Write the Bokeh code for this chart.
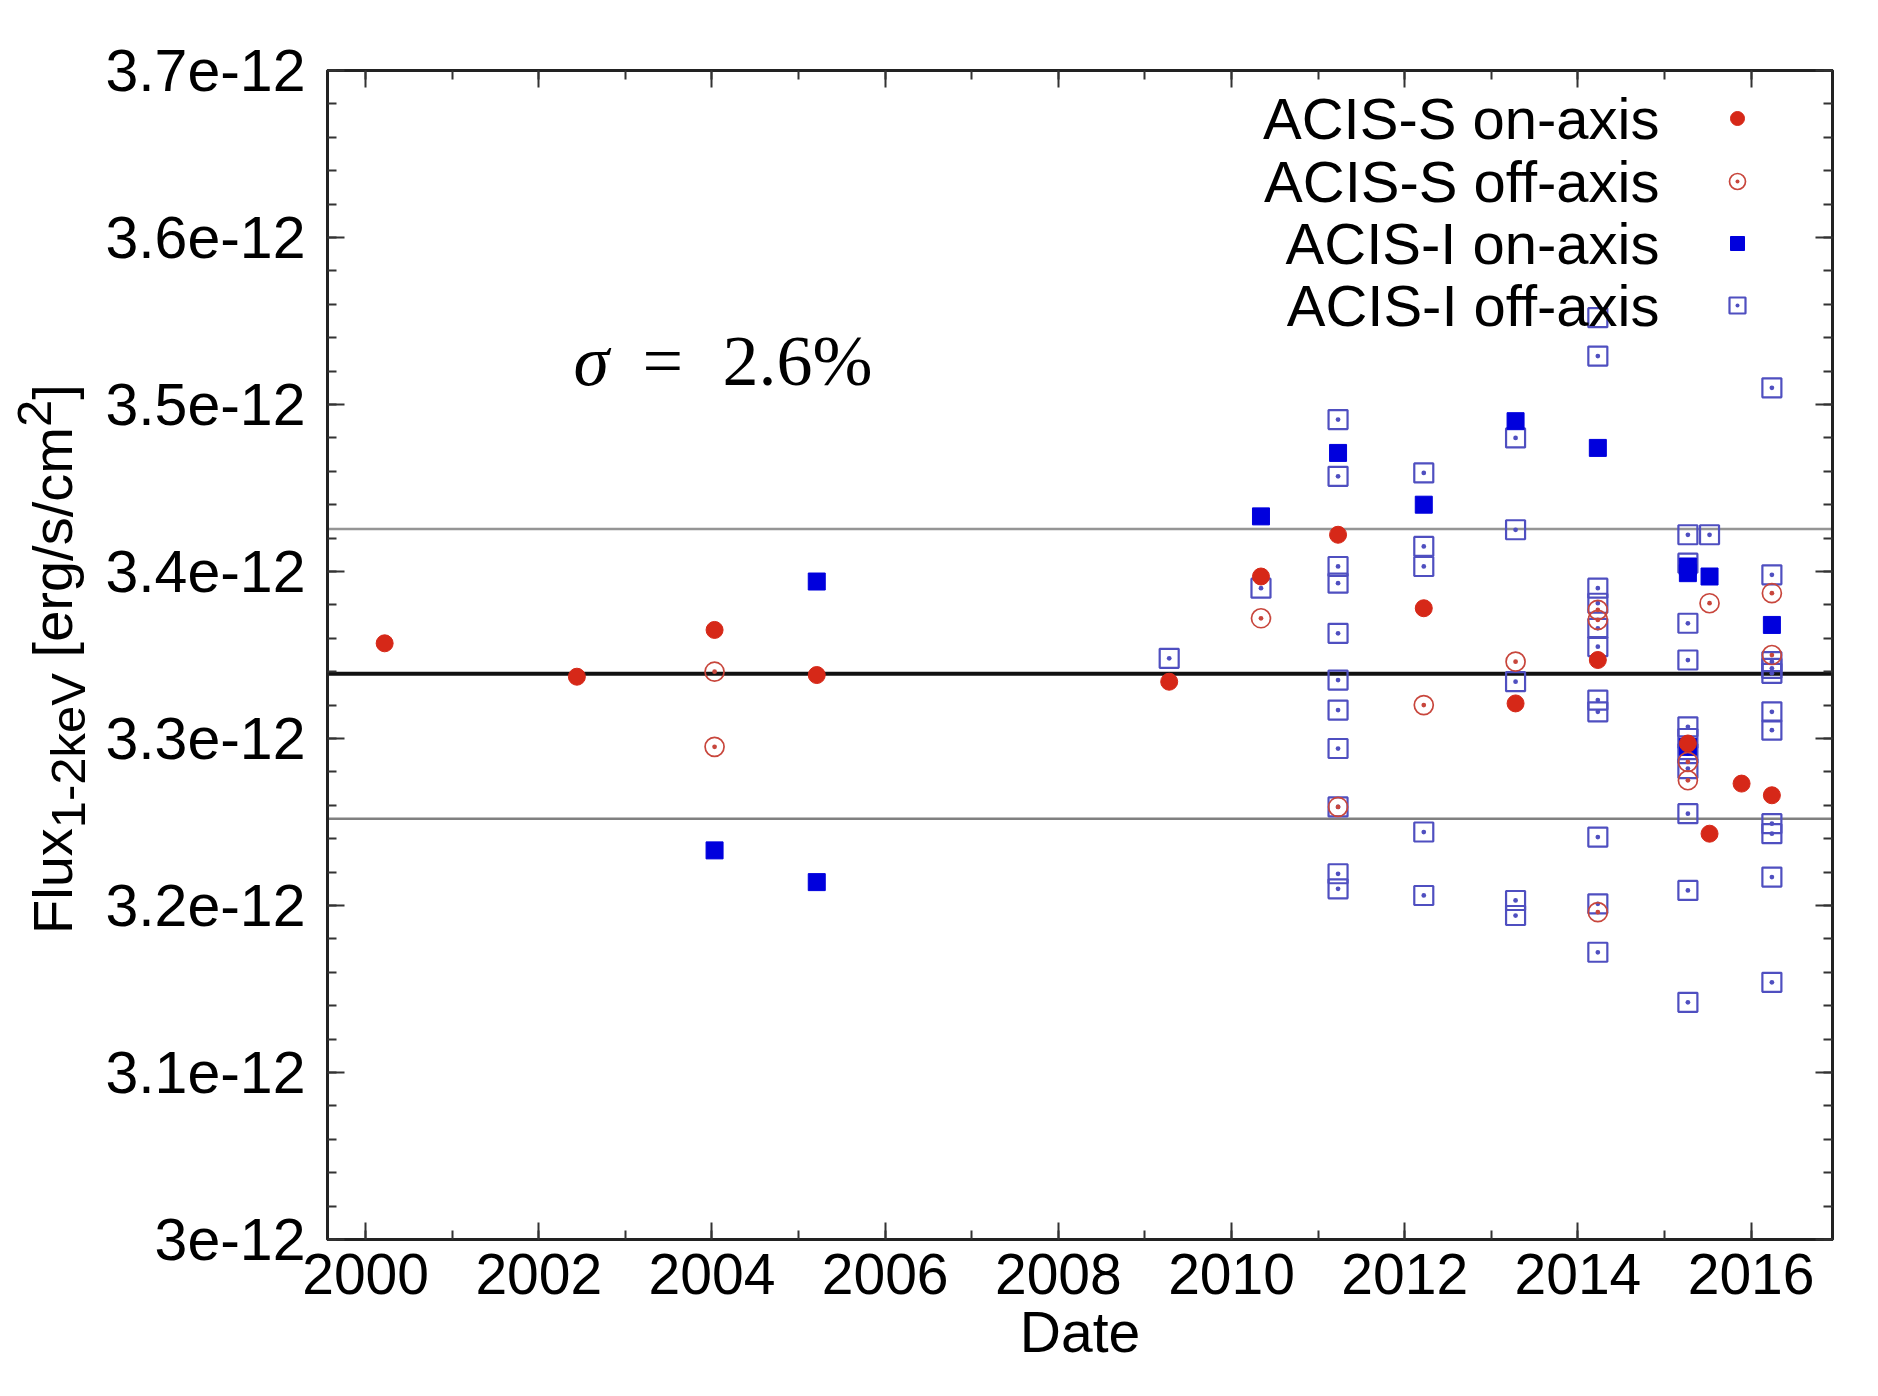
from bokeh.plotting import figure
from bokeh.layouts import row
from bokeh.models import Range1d, FixedTicker, LinearAxis, Label, Span, CustomJSTickFormatter, Div
from bokeh.embed import file_html
from bokeh.resources import INLINE

# ---------------- data (flux in units of 1e-12 erg/s/cm^2) ----------------
ACIS_S_ON_DATE = [2000.22, 2002.44, 2004.03, 2005.21, 2009.28, 2010.34, 2011.23,
                  2012.22, 2013.28, 2014.23, 2015.27, 2015.52, 2015.89, 2016.24]
ACIS_S_ON_FLUX = [3.357, 3.337, 3.365, 3.338, 3.334, 3.397, 3.422,
                  3.378, 3.321, 3.347, 3.297, 3.243, 3.273, 3.266]

ACIS_S_OFF_DATE = [2004.03, 2004.03, 2010.34, 2011.23, 2012.22, 2013.28, 2014.23,
                   2014.23, 2014.23, 2015.27, 2015.27, 2015.52, 2016.24, 2016.24]
ACIS_S_OFF_FLUX = [3.340, 3.295, 3.372, 3.259, 3.320, 3.346, 3.377,
                   3.371, 3.196, 3.286, 3.275, 3.381, 3.387, 3.350]

ACIS_I_ON_DATE = [2004.03, 2005.21, 2005.21, 2010.34, 2011.23, 2012.22, 2013.28,
                  2014.23, 2015.27, 2015.27, 2015.27, 2015.52, 2016.24]
ACIS_I_ON_FLUX = [3.233, 3.394, 3.214, 3.433, 3.471, 3.440, 3.490,
                  3.474, 3.403, 3.399, 3.295, 3.397, 3.368]

ACIS_I_OFF_DATE = ([2009.28, 2010.34]
                   + [2011.23] * 11
                   + [2012.22] * 5
                   + [2013.28] * 5
                   + [2014.23] * 11
                   + [2015.27] * 11
                   + [2015.52]
                   + [2016.24] * 11)
ACIS_I_OFF_FLUX = ([3.348, 3.390]
                   + [3.491, 3.457, 3.403, 3.393, 3.363, 3.335, 3.317, 3.294, 3.259, 3.219, 3.210]
                   + [3.459, 3.415, 3.403, 3.244, 3.206]
                   + [3.480, 3.425, 3.334, 3.203, 3.194]
                   + [3.552, 3.529, 3.390, 3.381, 3.366, 3.355, 3.323, 3.316, 3.241, 3.201, 3.172]
                   + [3.422, 3.405, 3.369, 3.347, 3.307, 3.300, 3.291, 3.282, 3.255, 3.209, 3.142]
                   + [3.422]
                   + [3.510, 3.398, 3.346, 3.342, 3.339, 3.316, 3.305, 3.249, 3.243, 3.217, 3.154])

MEAN_FLUX = 3.3387
SIGMA_PCT = 2.6

LEGEND_LABELS = ["ACIS-S on-axis", "ACIS-S off-axis", "ACIS-I on-axis", "ACIS-I off-axis"]

X_TICKS = [2000, 2002, 2004, 2006, 2008, 2010, 2012, 2014, 2016]
X_TICK_LABELS = ["2000", "2002", "2004", "2006", "2008", "2010", "2012", "2014", "2016"]
X_MINOR = list(range(2000, 2017))
Y_TICKS = [3.0, 3.1, 3.2, 3.3, 3.4, 3.5, 3.6, 3.7]
Y_TICK_LABELS = ["3e-12", "3.1e-12", "3.2e-12", "3.3e-12", "3.4e-12", "3.5e-12", "3.6e-12", "3.7e-12"]
Y_MINOR = [round(3.0 + 0.02 * i, 2) for i in range(36)]

Y_TITLE_MAIN = "Flux"
Y_TITLE_SUB = "1-2keV"
Y_TITLE_UNIT = " [erg/s/cm"
Y_TITLE_SUP = "2"
Y_TITLE_END = "]"

X_START, X_END = 1999.56, 2016.94
Y_START, Y_END = 3.0, 3.7

# ---------------- layout ----------------
FRAME_W, FRAME_H = 1505, 1169
TITLE_W = 90
BORDER_L, BORDER_T, BORDER_B = 327, 70, 155
TOTAL_H = BORDER_T + FRAME_H + BORDER_B
FONT = "Liberation Sans"
FS = "57px"

p = figure(frame_width=FRAME_W, frame_height=FRAME_H,
           x_range=Range1d(X_START, X_END), y_range=Range1d(Y_START, Y_END),
           output_backend="svg", toolbar_location=None,
           min_border_left=BORDER_L - TITLE_W, min_border_top=BORDER_T,
           min_border_right=20, min_border_bottom=BORDER_B,
           x_axis_label="Date")
p.grid.visible = False
p.outline_line_color = "#222222"
p.outline_line_width = 3
p.background_fill_color = "white"
p.border_fill_color = "white"

fmt_code = """
const i = tvals.findIndex(t => Math.abs(t - tick) < 1e-6);
return i >= 0 ? tlabels[i] : '';
"""
x_fmt = CustomJSTickFormatter(args=dict(tvals=X_TICKS, tlabels=X_TICK_LABELS), code=fmt_code)
y_fmt = CustomJSTickFormatter(args=dict(tvals=Y_TICKS, tlabels=Y_TICK_LABELS), code=fmt_code)
blank = CustomJSTickFormatter(code="return '';")


def style_axis(ax):
    ax.axis_line_color = "#222222"
    ax.axis_line_width = 3
    ax.major_tick_in = 17
    ax.major_tick_out = 0
    ax.minor_tick_in = 9
    ax.minor_tick_out = 0
    ax.major_tick_line_color = "#333333"
    ax.minor_tick_line_color = "#333333"
    ax.major_tick_line_width = 2
    ax.minor_tick_line_width = 2
    ax.major_label_text_font = FONT
    ax.major_label_text_font_size = FS
    ax.major_label_text_color = "black"


xa = p.xaxis[0]
xa.ticker = FixedTicker(ticks=X_TICKS, minor_ticks=X_MINOR)
xa.formatter = x_fmt
style_axis(xa)
xa.major_label_standoff = 14
xa.axis_label_text_font = FONT
xa.axis_label_text_font_size = FS
xa.axis_label_text_font_style = "normal"
xa.axis_label_text_color = "black"
xa.axis_label_standoff = 3

ya = p.yaxis[0]
ya.ticker = FixedTicker(ticks=Y_TICKS, minor_ticks=Y_MINOR)
ya.formatter = y_fmt
style_axis(ya)
ya.major_label_standoff = 22
ya.major_label_text_font_size = "59px"

top = LinearAxis(ticker=FixedTicker(ticks=X_TICKS, minor_ticks=X_MINOR), formatter=blank)
style_axis(top)
p.add_layout(top, "above")
right = LinearAxis(ticker=FixedTicker(ticks=Y_TICKS, minor_ticks=Y_MINOR), formatter=blank)
style_axis(right)
p.add_layout(right, "right")

# ---------------- reference lines ----------------
upper = MEAN_FLUX * (1 + SIGMA_PCT / 100)
lower = MEAN_FLUX * (1 - SIGMA_PCT / 100)
for loc, col, w in [(upper, "#959595", 2.5), (lower, "#808080", 2.5), (MEAN_FLUX, "#111111", 4)]:
    p.add_layout(Span(location=loc, dimension="width", line_color=col, line_width=w, level="underlay"))

# ---------------- points ----------------
RED = "#d62818"
BLUE = "#0000dd"
SQ = "#4f4fc0"
styles = {
    "S_on": dict(marker="circle", size=17, fill_color=RED, line_color=RED, line_width=1),
    "S_off": dict(marker="circle_dot", size=19, fill_color=None, line_color="#c8463c", line_width=1.7),
    "I_on": dict(marker="square", size=17, fill_color=BLUE, line_color=BLUE, line_width=1),
    "I_off": dict(marker="square_dot", size=19, fill_color=None, line_color=SQ, line_width=2.2),
}

p.scatter(ACIS_I_OFF_DATE, ACIS_I_OFF_FLUX, **styles["I_off"])
p.scatter(ACIS_I_ON_DATE, ACIS_I_ON_FLUX, **styles["I_on"])
p.scatter(ACIS_S_OFF_DATE, ACIS_S_OFF_FLUX, **styles["S_off"])
p.scatter(ACIS_S_ON_DATE, ACIS_S_ON_FLUX, **styles["S_on"])

# ---------------- legend (text right-aligned, symbol on the right) ----------------
LEG_TEXT_X = 1332       # screen px from frame left
LEG_SYM_X = 1410
LEG_ROWS = [1121, 1058, 996, 934]   # screen px from frame bottom
px_x = (X_END - X_START) / FRAME_W
px_y = (Y_END - Y_START) / FRAME_H
for lab, key, rw in zip(LEGEND_LABELS, ["S_on", "S_off", "I_on", "I_off"], LEG_ROWS):
    p.add_layout(Label(x=LEG_TEXT_X, y=rw, x_units="screen", y_units="screen", text=lab,
                       text_font=FONT, text_font_size="58px", text_align="right",
                       text_baseline="middle", text_color="black"))
    st = dict(styles[key])
    st["size"] = st["size"] - 3
    p.scatter([X_START + LEG_SYM_X * px_x], [Y_START + rw * px_y], **st)

# ---------------- sigma annotation ----------------
SERIF = "Liberation Serif"
for txt, x, style in [("\u03c3", 246, "italic"), ("=", 315, "normal"), (f"{SIGMA_PCT}%", 395, "normal")]:
    p.add_layout(Label(x=x, y=879, x_units="screen", y_units="screen", text=txt,
                       text_font=SERIF, text_font_size="72px", text_font_style=style,
                       text_baseline="alphabetic", text_align="left", text_color="black"))

# ---------------- y axis title: rotated HTML text with sub/superscript ----------------
TITLE_START_FROM_TOP = 934   # where the text begins (bottom end), px from top
LINE_LEFT = 25               # left edge of the rotated line box
title_html = (
    f'<div style="transform: translate({LINE_LEFT}px, {TITLE_START_FROM_TOP}px) rotate(-90deg);'
    f' transform-origin: 0 0; white-space: nowrap; font-family: \'{FONT}\'; font-size: 56px;'
    f' line-height: 56px; color: black; width: max-content;">'
    f'{Y_TITLE_MAIN}<span style="font-size: 49px; position: relative; top: 13px;">{Y_TITLE_SUB}</span>'
    f'{Y_TITLE_UNIT}<span style="font-size: 49px; position: relative; top: -21px;">{Y_TITLE_SUP}</span>'
    f'{Y_TITLE_END}</div>'
)
title_div = Div(text=title_html, width=TITLE_W, height=TOTAL_H,
                styles={"overflow": "visible", "margin": "0", "padding": "0"})

layout = row(title_div, p, spacing=0)
open("out.html", "w").write(file_html(layout, INLINE))
